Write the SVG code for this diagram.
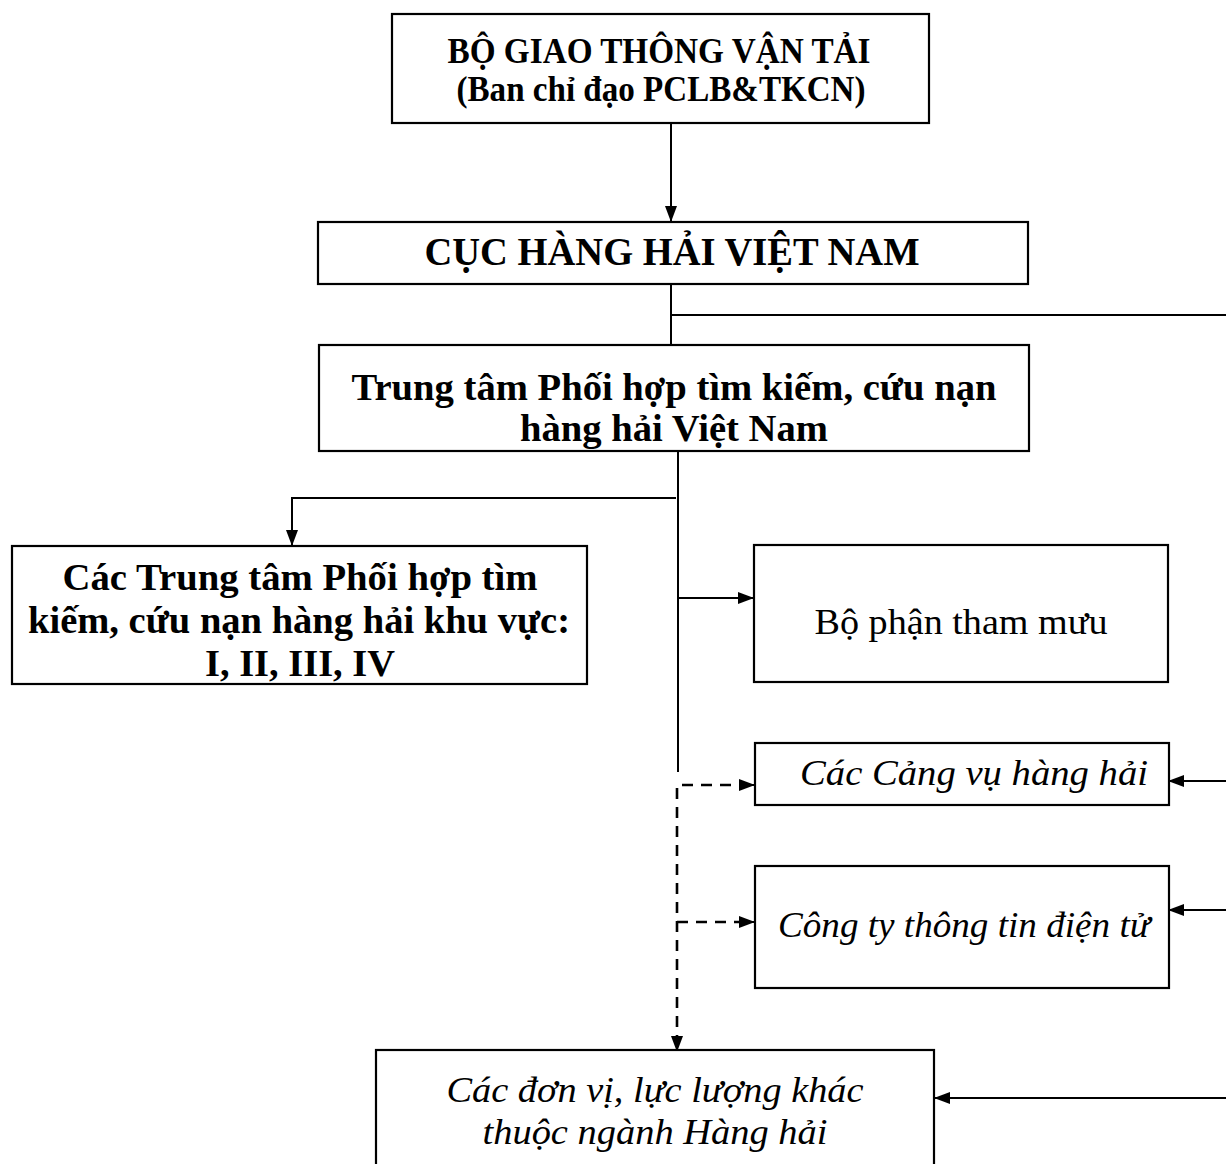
<svg xmlns="http://www.w3.org/2000/svg" width="1226" height="1164" viewBox="0 0 1226 1164">
<defs>
<marker id="ah" markerWidth="16" markerHeight="12" refX="15" refY="6" orient="auto" markerUnits="userSpaceOnUse">
<path d="M0,0 L16,6 L0,12 Z" fill="#000"/>
</marker>
<style>
.box{fill:#fff;stroke:#000;stroke-width:2.2}
.b{font-family:"Liberation Serif","Times New Roman",serif;font-weight:bold;fill:#000;text-anchor:middle}
.r{font-family:"Liberation Serif","Times New Roman",serif;fill:#000;text-anchor:middle}
.i{font-family:"Liberation Serif","Times New Roman",serif;font-style:italic;fill:#000;text-anchor:middle}
.ln{fill:none;stroke:#000;stroke-width:2}
.ds{fill:none;stroke:#000;stroke-width:2.6;stroke-dasharray:11,8}
</style>
</defs>
<rect width="1226" height="1164" fill="#fff"/>
<g id="connectors">
<path class="ln" d="M671,123 V221" marker-end="url(#ah)"/>
<path class="ln" d="M671,284 V345"/>
<path class="ln" d="M671,315 H1226"/>
<path class="ln" d="M678,451 V772"/>
<path class="ln" d="M676,498 H292 V545" marker-end="url(#ah)"/>
<path class="ln" d="M678,598 H753" marker-end="url(#ah)"/>
<path class="ds" d="M750,785 H677 V1046"/>
<path class="ln" d="M742,785 H754" marker-end="url(#ah)"/>
<path class="ln" d="M677,1036 V1051" marker-end="url(#ah)"/>
<path class="ds" d="M677,922 H750"/>
<path class="ln" d="M742,922 H754" marker-end="url(#ah)"/>
<path class="ln" d="M1226,781 H1169" marker-end="url(#ah)"/>
<path class="ln" d="M1226,910 H1169" marker-end="url(#ah)"/>
<path class="ln" d="M1226,1098 H935" marker-end="url(#ah)"/>
</g>
<g id="bo-gtvt">
<rect class="box" x="392" y="14" width="537" height="109"/>
<text class="b" x="659" y="63" font-size="35" textLength="423" lengthAdjust="spacingAndGlyphs">BỘ GIAO THÔNG VẬN TẢI</text>
<text class="b" x="661" y="101" font-size="35" textLength="409" lengthAdjust="spacingAndGlyphs">(Ban chỉ đạo PCLB&amp;TKCN)</text>
</g>
<g id="cuc-hang-hai">
<rect class="box" x="318" y="222" width="710" height="62"/>
<text class="b" x="672" y="265" font-size="41" textLength="495" lengthAdjust="spacingAndGlyphs">CỤC HÀNG HẢI VIỆT NAM</text>
</g>
<g id="trung-tam">
<rect class="box" x="319" y="345" width="710" height="106"/>
<text class="b" x="674" y="400" font-size="38" textLength="645" lengthAdjust="spacingAndGlyphs">Trung tâm Phối hợp tìm kiếm, cứu nạn</text>
<text class="b" x="674" y="441" font-size="38" textLength="308" lengthAdjust="spacingAndGlyphs">hàng hải Việt Nam</text>
</g>
<g id="trung-tam-khu-vuc">
<rect class="box" x="12" y="546" width="575" height="138"/>
<text class="b" x="300" y="590" font-size="38" textLength="475" lengthAdjust="spacingAndGlyphs">Các Trung tâm Phối hợp tìm</text>
<text class="b" x="299" y="633" font-size="38" textLength="542" lengthAdjust="spacingAndGlyphs">kiếm, cứu nạn hàng hải khu vực:</text>
<text class="b" x="300" y="676" font-size="38" textLength="190" lengthAdjust="spacingAndGlyphs">I, II, III, IV</text>
</g>
<g id="bo-phan-tham-muu">
<rect class="box" x="754" y="545" width="414" height="137"/>
<text class="r" x="961" y="634" font-size="35" textLength="293" lengthAdjust="spacingAndGlyphs">Bộ phận tham mưu</text>
</g>
<g id="cang-vu">
<rect class="box" x="755" y="743" width="414" height="62"/>
<text class="i" x="974" y="785" font-size="36" textLength="348" lengthAdjust="spacingAndGlyphs">Các Cảng vụ hàng hải</text>
</g>
<g id="cong-ty">
<rect class="box" x="755" y="866" width="414" height="122"/>
<text class="i" x="964" y="937" font-size="36" textLength="372" lengthAdjust="spacingAndGlyphs">Công ty thông tin điện tử</text>
</g>
<g id="don-vi-khac">
<rect class="box" x="376" y="1050" width="558" height="130"/>
<text class="i" x="655" y="1102" font-size="36" textLength="417" lengthAdjust="spacingAndGlyphs">Các đơn vị, lực lượng khác</text>
<text class="i" x="655" y="1144" font-size="36" textLength="345" lengthAdjust="spacingAndGlyphs">thuộc ngành Hàng hải</text>
</g>
</svg>
